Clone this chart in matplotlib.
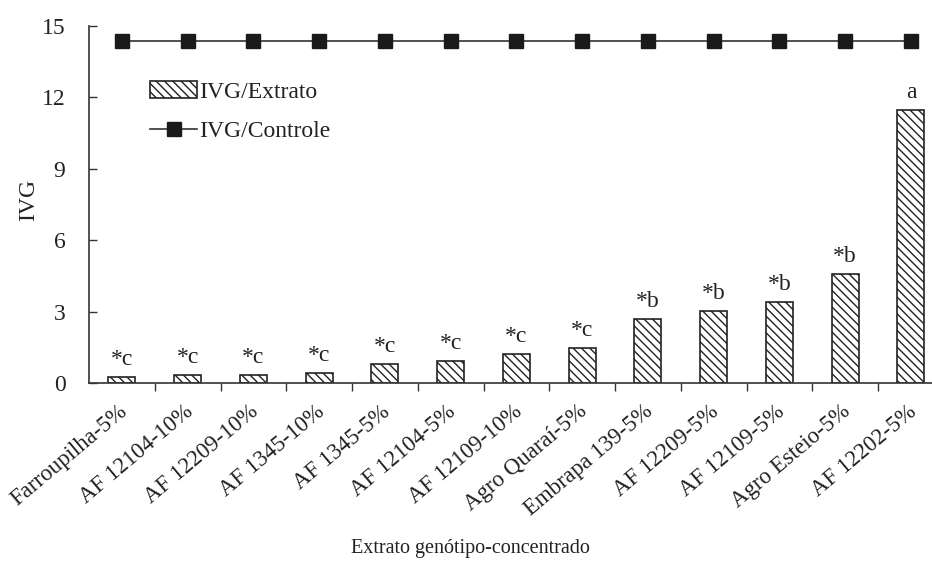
import matplotlib
matplotlib.use("Agg")
import matplotlib.pyplot as plt
import matplotlib.transforms as mtransforms
import numpy as np

# Germination speed index (IVG) per genotype extract and concentration
categories = ["Farroupilha-5%", "AF 12104-10%", "AF 12209-10%", "AF 1345-10%",
              "AF 1345-5%", "AF 12104-5%", "AF 12109-10%", "Agro Quaraí-5%",
              "Embrapa 139-5%", "AF 12209-5%", "AF 12109-5%", "Agro Esteio-5%",
              "AF 12202-5%"]
ivg_extrato = [0.26, 0.32, 0.32, 0.43, 0.81, 0.92, 1.20, 1.47,
               2.68, 3.01, 3.39, 4.59, 11.47]
ivg_controle = [14.35] * 13
letters = ["*c", "*c", "*c", "*c", "*c", "*c", "*c", "*c",
           "*b", "*b", "*b", "*b", "a"]
yticks = [0, 3, 6, 9, 12, 15]

plt.rcParams["font.family"] = ["Liberation Serif", "DejaVu Serif"]
plt.rcParams["hatch.color"] = "#333333"
plt.rcParams["hatch.linewidth"] = 1.0

fig = plt.figure(figsize=(9.32, 5.63), dpi=100)
ax = fig.add_axes([89 / 932, 1 - 383 / 563, 13 * 65.75 / 932, (383 - 26) / 563])

x = np.arange(len(categories))
bars = ax.bar(x, ivg_extrato, width=0.41, color="white", edgecolor="#222222",
              linewidth=1.2, hatch="\\\\\\\\", label="IVG/Extrato", zorder=2)
line, = ax.plot(x, ivg_controle, color="#333333", lw=1.2, marker="s",
                markersize=9.5, markerfacecolor="#1a1a1a",
                markeredgecolor="#1a1a1a", label="IVG/Controle", zorder=3)

for xi, v, t in zip(x, ivg_extrato, letters):
    ax.annotate(t, (xi, v), xytext=(0, 5), textcoords="offset points",
                ha="center", va="bottom", fontsize=17, color="#222222")

ax.set_xlim(-0.5, len(categories) - 0.5)
ax.set_ylim(0, 15)
ax.set_yticks(yticks)
ax.set_yticklabels([str(t) for t in yticks], fontsize=17)
ax.tick_params(axis="y", direction="in", length=6, width=1, color="#333333",
               pad=17, labelcolor="#222222")

ax.set_xticks(x)
ax.set_xticklabels(categories, rotation=40, ha="right",
                   rotation_mode="anchor", fontsize=16.5, color="#222222")
ax.tick_params(axis="x", which="major", length=0, pad=13)
shift = mtransforms.ScaledTranslation(-0.04, 0, fig.dpi_scale_trans)
for lbl in ax.get_xticklabels():
    lbl.set_transform(lbl.get_transform() + shift)
ax.set_xticks(np.arange(0.5, len(categories) - 0.5, 1), minor=True)
ax.tick_params(axis="x", which="minor", direction="out", length=6, width=1,
               color="#333333")

for side in ("top", "right"):
    ax.spines[side].set_visible(False)
for side in ("left", "bottom"):
    ax.spines[side].set_color("#333333")
    ax.spines[side].set_linewidth(1.2)

ax.set_ylabel("IVG", fontsize=17, color="#222222")
ax.yaxis.set_label_coords((39 - 89) / 855, (383 - 200) / 357)
fig.text(470 / 932, 1 - 548 / 563, "Extrato genótipo-concentrado",
         ha="center", va="center", fontsize=14.5, color="#222222")

leg = ax.legend([bars, line], ["IVG/Extrato", "IVG/Controle"],
                loc="upper left", bbox_to_anchor=(61 / 855, 1 - 55 / 357),
                frameon=False, fontsize=17, handlelength=2.0,
                handletextpad=0.1, labelspacing=0.75, borderpad=0,
                borderaxespad=0)
for t in leg.get_texts():
    t.set_color("#222222")

fig.savefig("out.png", dpi=100)
